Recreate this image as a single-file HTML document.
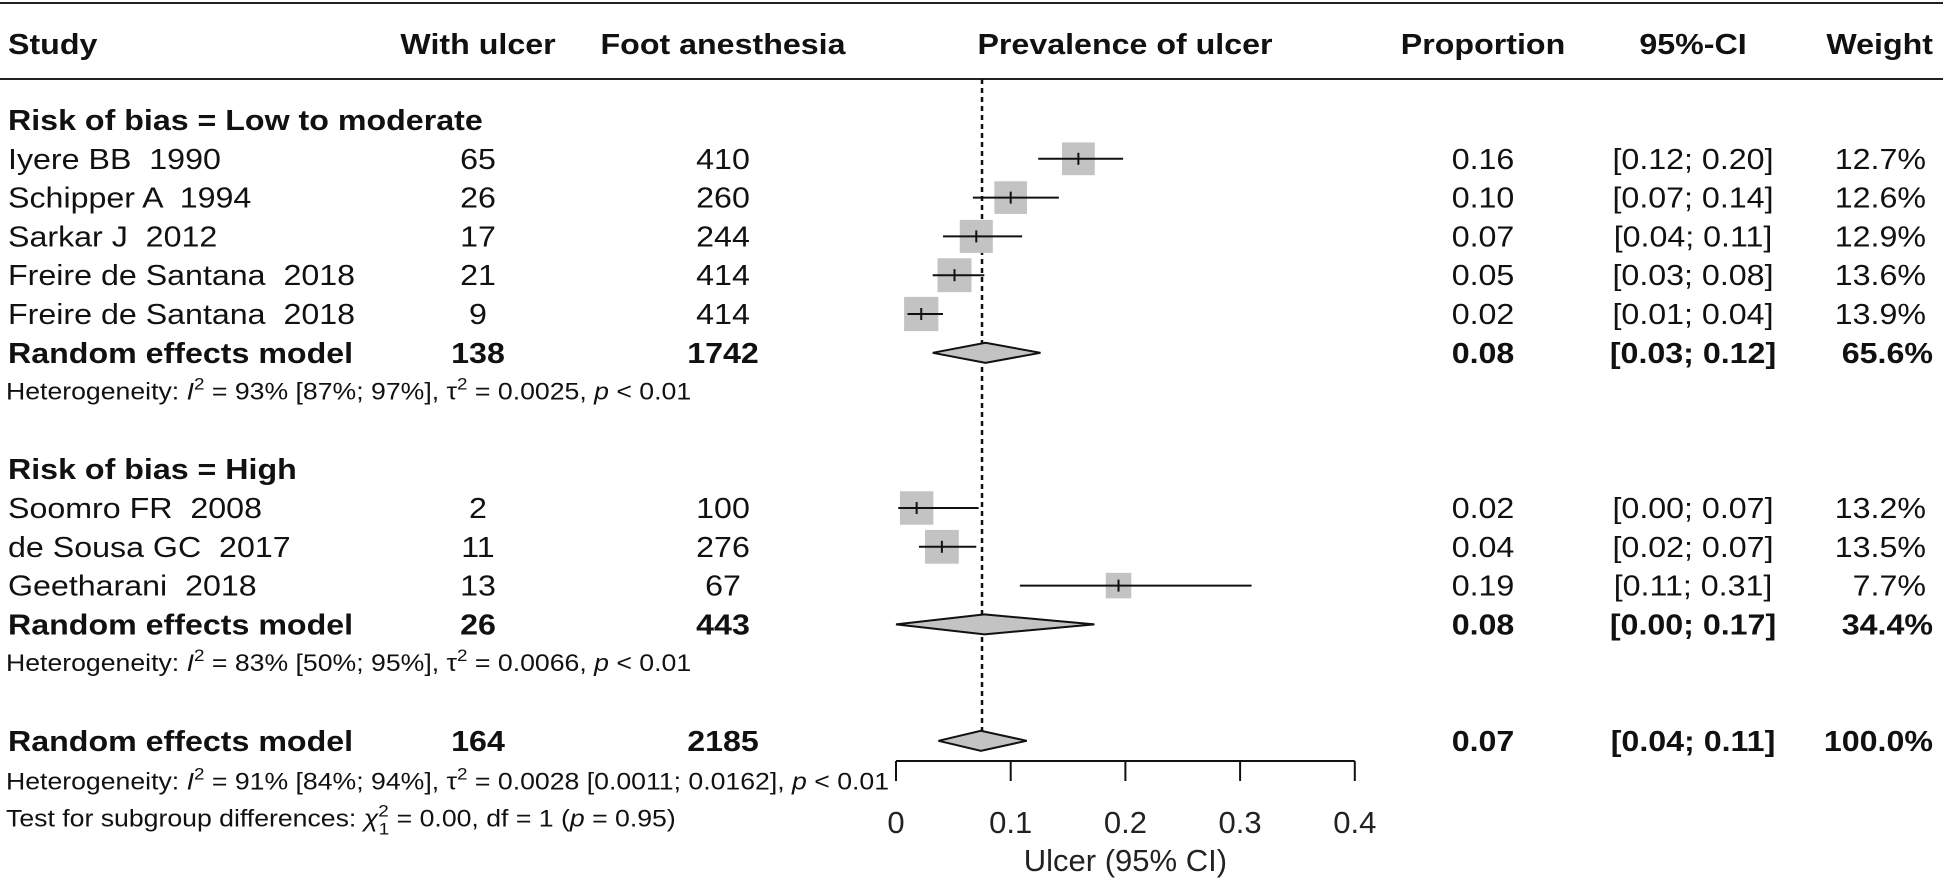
<!DOCTYPE html>
<html><head><meta charset="utf-8"><style>
html,body{margin:0;padding:0;background:#fff;}
svg{display:block;font-family:"Liberation Sans",Arial,sans-serif;}
text{white-space:pre;}
</style></head><body>
<svg id="plot" width="1943" height="882" viewBox="0 0 1943 882" xmlns="http://www.w3.org/2000/svg" xml:space="preserve"></svg>
<script>
// ---- data ----
const studies = ["Iyere BB  1990","Schipper A  1994","Sarkar J  2012","Freire de Santana  2018","Freire de Santana  2018","Soomro FR  2008","de Sousa GC  2017","Geetharani  2018"];
const studyRows = [1,2,3,4,5,10,11,12];
const withUlcer = ["65","26","17","21","9","2","11","13"];
const footAnesthesia = ["410","260","244","414","414","100","276","67"];
const proportion = [0.159,0.100,0.070,0.051,0.022,0.018,0.040,0.194];
const lower = [0.124,0.067,0.041,0.032,0.010,0.002,0.020,0.108];
const upper = [0.198,0.142,0.110,0.077,0.041,0.072,0.070,0.310];
const weights = [12.7,12.6,12.9,13.6,13.9,13.2,13.5,7.7];
const propLabels = ["0.16","0.10","0.07","0.05","0.02","0.02","0.04","0.19"];
const ciLabels = ["[0.12; 0.20]","[0.07; 0.14]","[0.04; 0.11]","[0.03; 0.08]","[0.01; 0.04]","[0.00; 0.07]","[0.02; 0.07]","[0.11; 0.31]"];
const weightLabels = ["12.7%","12.6%","12.9%","13.6%","13.9%","13.2%","13.5%","7.7%"];
const pooledRows = [6,13,16];
const pooledEst = [0.078,0.077,0.074];
const pooledLower = [0.032,0.000,0.037];
const pooledUpper = [0.126,0.173,0.114];
const pooledUlcer = ["138","26","164"];
const pooledFoot = ["1742","443","2185"];
const pooledProp = ["0.08","0.08","0.07"];
const pooledCI = ["[0.03; 0.12]","[0.00; 0.17]","[0.04; 0.11]"];
const pooledWeight = ["65.6%","34.4%","100.0%"];
const refValue = 0.075;
const xTicks = [0,0.1,0.2,0.3,0.4];
const xTickLabels = ["0","0.1","0.2","0.3","0.4"];

// ---- scales ----
const X0 = 896, XPER = 1147;
function xs(v){ return X0 + v*XPER; }
function ys(k){ return 120 + 38.8*k; }
const NS = "http://www.w3.org/2000/svg";
const svg = document.getElementById("plot");
function mk(tag, attrs, parent){
  const e = document.createElementNS(NS, tag);
  for (const a in attrs) e.setAttribute(a, attrs[a]);
  (parent||svg).appendChild(e);
  return e;
}
const SX = 1.11;
function txt(str, x, y, anchor, size, bold){
  const t = mk("text", {transform:`translate(${x},${y}) scale(${SX},1)`, "text-anchor":anchor, "font-size":size, fill:"#111", "font-weight":bold?"bold":"normal"});
  t.textContent = str;
  return t;
}

// rules
const r1 = mk("line",{x1:0,y1:3,x2:1943,y2:3,stroke:"#222","stroke-width":2});


const r2 = mk("line",{x1:0,y1:79,x2:1943,y2:79,stroke:"#222","stroke-width":2});



// headers
const H = 54;
let h;
h = txt("Study",8,H,"start",29,true);


h = txt("With ulcer",478,H,"middle",29,true);


h = txt("Foot anesthesia",723,H,"middle",29,true);


h = txt("Prevalence of ulcer",1125,H,"middle",29,true);


h = txt("Proportion",1483,H,"middle",29,true);


h = txt("95%-CI",1693,H,"middle",29,true);


h = txt("Weight",1933,H,"end",29,true);



// subgroup headers
h = txt("Risk of bias = Low to moderate",8,ys(0)+10,"start",29,true);


h = txt("Risk of bias = High",8,ys(9)+10,"start",29,true);



// reference dashed line
const ref = mk("line",{x1:xs(refValue),y1:79,x2:xs(refValue),y2:ys(16)-10,stroke:"#111","stroke-width":2.5,"stroke-dasharray":"5,4"});



// studies
for (let i=0;i<studies.length;i++){
  const y = ys(studyRows[i]);
  let t;
  t = txt(studies[i],8,y+10,"start",29,false);
  
  
  t = txt(withUlcer[i],478,y+10,"middle",29,false);
  
  
  t = txt(footAnesthesia[i],723,y+10,"middle",29,false);
  
  
  t = txt(propLabels[i],1483,y+10,"middle",29,false);
  
  
  t = txt(ciLabels[i],1693,y+10,"middle",29,false);
  
  
  t = txt(weightLabels[i],1926,y+10,"end",29,false);
  
  
  const s = 9.2*Math.sqrt(weights[i]);
  const box = mk("rect",{x:xs(proportion[i])-s/2,y:y-s/2,width:s,height:s,fill:"#c3c3c3"});
  
  
  const ci = mk("line",{x1:xs(lower[i]),y1:y,x2:xs(upper[i]),y2:y,stroke:"#111","stroke-width":2});
  
  
  const pt = mk("line",{x1:xs(proportion[i]),y1:y-6,x2:xs(proportion[i]),y2:y+6,stroke:"#111","stroke-width":2});
  
  
}

// pooled rows
for (let j=0;j<pooledRows.length;j++){
  const y = ys(pooledRows[j]);
  let t;
  t = txt("Random effects model",8,y+10,"start",29,true);
  
  
  t = txt(pooledUlcer[j],478,y+10,"middle",29,true);
  
  
  t = txt(pooledFoot[j],723,y+10,"middle",29,true);
  
  
  t = txt(pooledProp[j],1483,y+10,"middle",29,true);
  
  
  t = txt(pooledCI[j],1693,y+10,"middle",29,true);
  
  
  t = txt(pooledWeight[j],1933,y+10,"end",29,true);
  
  
  const d = mk("polygon",{points:`${xs(pooledLower[j])},${y} ${xs(pooledEst[j])},${y-10} ${xs(pooledUpper[j])},${y} ${xs(pooledEst[j])},${y+10}`,fill:"#c3c3c3",stroke:"#111","stroke-width":2});
  
  
}

// heterogeneity text lines
function hetLine(y, parts, name){
  const t = mk("text",{transform:`translate(6,${y}) scale(${SX},1)`,"font-size":24,fill:"#111"});
  for (const p of parts){
    const ts = document.createElementNS(NS,"tspan");
    if (p.i) ts.setAttribute("font-style","italic");
    if (p.sup){ ts.setAttribute("dy","-10"); ts.setAttribute("font-size","17"); }
    if (p.sub){ ts.setAttribute("font-size","17"); }
    if (p.dy) ts.setAttribute("dy", p.dy);
    if (p.dx) ts.setAttribute("dx", p.dx);
    ts.textContent = p.t;
    t.appendChild(ts);
  }
  
  
}
hetLine(ys(7)+8,[{t:"Heterogeneity: "},{t:"I",i:1},{t:"2",sup:1},{t:" = 93% [87%; 97%], ",dy:"10"},{t:"τ"},{t:"2",sup:1},{t:" = 0.0025, ",dy:"10"},{t:"p",i:1},{t:" < 0.01"}],'heterogeneity-low-moderate');
hetLine(ys(14)+8,[{t:"Heterogeneity: "},{t:"I",i:1},{t:"2",sup:1},{t:" = 83% [50%; 95%], ",dy:"10"},{t:"τ"},{t:"2",sup:1},{t:" = 0.0066, ",dy:"10"},{t:"p",i:1},{t:" < 0.01"}],'heterogeneity-high');
hetLine(ys(17)+10,[{t:"Heterogeneity: "},{t:"I",i:1},{t:"2",sup:1},{t:" = 91% [84%; 94%], ",dy:"10"},{t:"τ"},{t:"2",sup:1},{t:" = 0.0028 [0.0011; 0.0162], ",dy:"10"},{t:"p",i:1},{t:" < 0.01"}],'heterogeneity-overall');
hetLine(ys(18)+8,[{t:"Test for subgroup differences: "},{t:"χ",i:1},{t:"2",sup:1},{t:"1",sub:1,dy:"18",dx:"-9"},{t:" = 0.00, df = 1 (",dy:"-8"},{t:"p",i:1},{t:" = 0.95)"}],'subgroup-test');

// axis
const ax = mk("line",{x1:xs(xTicks[0]),y1:761,x2:xs(xTicks[xTicks.length-1]),y2:761,stroke:"#111","stroke-width":2});


for (let i=0;i<xTicks.length;i++){
  const tk = mk("line",{x1:xs(xTicks[i]),y1:761,x2:xs(xTicks[i]),y2:781,stroke:"#111","stroke-width":2});
  
  
  const tl = mk("text",{x:xs(xTicks[i]),y:833,"text-anchor":"middle","font-size":31,fill:"#222"});
  tl.textContent = xTickLabels[i];
  
  
}
const at = mk("text",{x:xs(0.2),y:871,"text-anchor":"middle","font-size":31,fill:"#222"});
at.textContent = "Ulcer (95% CI)";


</script>
</body></html>
